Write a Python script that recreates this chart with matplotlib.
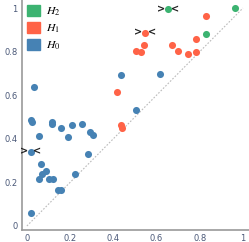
import numpy as np
import matplotlib
matplotlib.use("Agg")
import matplotlib.pyplot as plt
from matplotlib.patches import Patch

plt.rcParams["mathtext.fontset"] = "stix"

# persistence diagram points (birth, death)
h0_birth = [0.031, 0.434, 0.614, 0.506, 0.019, 0.026, 0.114, 0.114, 0.054, 0.156,
            0.188, 0.210, 0.255, 0.292, 0.307, 0.017, 0.281, 0.065, 0.069, 0.089,
            0.054, 0.103, 0.123, 0.221, 0.142, 0.157, 0.020]
h0_death = [0.636, 0.694, 0.699, 0.532, 0.486, 0.476, 0.476, 0.466, 0.413, 0.448,
            0.410, 0.462, 0.466, 0.433, 0.416, 0.341, 0.329, 0.286, 0.237, 0.254,
            0.214, 0.214, 0.214, 0.237, 0.165, 0.165, 0.060]
h1_birth = [0.415, 0.434, 0.438, 0.830, 0.548, 0.543, 0.506, 0.529, 0.673, 0.699,
            0.744, 0.781, 0.781]
h1_death = [0.613, 0.463, 0.451, 0.963, 0.887, 0.829, 0.803, 0.798, 0.829, 0.803,
            0.789, 0.856, 0.797]
h2_birth = [0.654, 0.961, 0.829]
h2_death = [0.995, 1.000, 0.879]

# highlighted points (marked with > <)
marked = [(0.654, 0.995), (0.548, 0.887), (0.017, 0.341)]

c_h0 = "#4682b4"
c_h1 = "#ff6347"
c_h2 = "#3cb371"

fig = plt.figure(figsize=(2.49, 2.42), dpi=100)
ax = fig.add_axes([0.088, 0.05, 0.912, 0.95])

ax.plot([0, 1], [0, 1], color="#bbbbbb", lw=0.8, ls=(0, (1.5, 1.5)), zorder=1)
ax.scatter(h0_birth, h0_death, s=26, color=c_h0, zorder=3, linewidths=0)
ax.scatter(h1_birth, h1_death, s=26, color=c_h1, zorder=3, linewidths=0)
ax.scatter(h2_birth, h2_death, s=26, color=c_h2, zorder=3, linewidths=0)

for bx, dy in marked:
    ax.annotate(">", (bx, dy), xytext=(-5, 0), textcoords="offset points",
                ha="center", va="center", fontsize=7, fontweight="bold", color="#222222")
    ax.annotate("<", (bx, dy), xytext=(5, 0), textcoords="offset points",
                ha="center", va="center", fontsize=7, fontweight="bold", color="#222222")

ax.set_xlim(-0.023, 1.028)
ax.set_ylim(-0.018, 1.037)
ticks = [0, 0.2, 0.4, 0.6, 0.8, 1]
labels = ["0", "0.2", "0.4", "0.6", "0.8", "1"]
ax.set_xticks(ticks)
ax.set_xticklabels(labels)
ax.set_yticks(ticks)
ax.set_yticklabels(labels)
ax.tick_params(length=0, labelsize=6, labelcolor="#4a5878", pad=3)

for s in ["top", "right"]:
    ax.spines[s].set_visible(False)
for s in ["left", "bottom"]:
    ax.spines[s].set_color("#999999")
    ax.spines[s].set_linewidth(1.2)

handles = [Patch(color=c_h2, label=r"$H_2$"),
           Patch(color=c_h1, label=r"$H_1$"),
           Patch(color=c_h0, label=r"$H_0$")]
ax.legend(handles=handles, loc="upper left", frameon=False, fontsize=8.5,
          handlelength=1.1, handleheight=1.1, handletextpad=0.5,
          labelspacing=0.3, borderaxespad=0.2, borderpad=0.2)

fig.savefig("out.png", dpi=100)
